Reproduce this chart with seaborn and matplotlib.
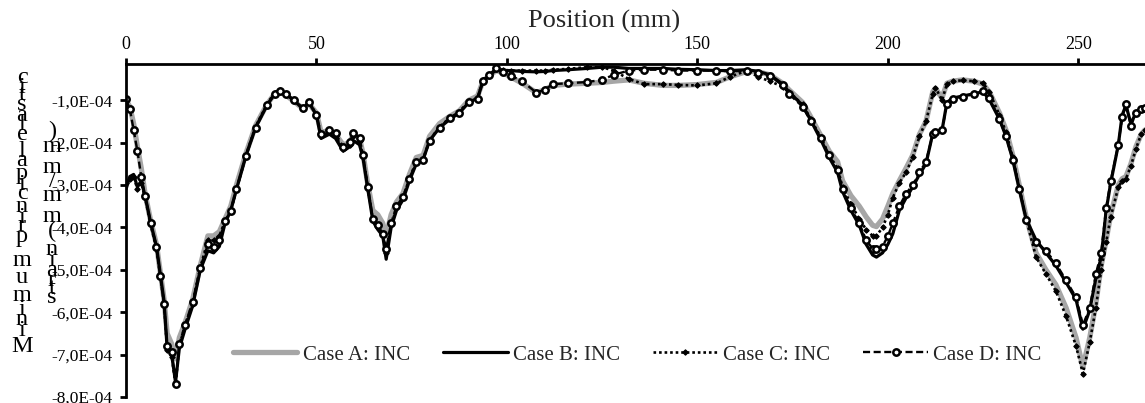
import numpy as np
import pandas as pd
import matplotlib
matplotlib.use("Agg")
import matplotlib.pyplot as plt
import seaborn as sns
from matplotlib.ticker import FuncFormatter, FixedLocator

# ---------------- data (strain values in units of 1E-04 mm/mm) ----------------
position = [0, 1, 2, 3, 4, 5, 6.5, 8, 9, 10, 10.8, 12, 13, 14, 15.5, 17.5, 19.5, 21.5, 23, 24.5,
            26, 27.5, 29, 31.5, 34, 37, 39, 40.5, 42, 44, 46.5, 48, 50, 51.2, 53.4, 55, 57, 58.7,
            59.7, 61.3, 62.2, 63.5, 64.8, 66.1, 67.4, 68.3, 69.6, 71, 72.7, 74.4, 76.2, 78, 79.7,
            82.3, 85, 87.5, 90, 92.3, 93.7, 95.4, 97.2, 99, 101, 104, 107.7, 110, 112, 116, 121,
            125, 128, 132, 136, 141, 145, 150, 155, 158.5, 163, 166, 169, 172.4, 174, 177.6, 179.8,
            182.5, 184.6, 186.8, 188.1, 190.3, 192.5, 194.3, 196, 197, 198.6, 200, 201.3, 203,
            204.8, 206.5, 208.3, 210, 211.8, 212.5, 214.2, 215.5, 217, 219.6, 222.5, 225, 226.6,
            229.3, 231, 232.8, 234.5, 236.3, 238.9, 241.5, 244.1, 246.8, 249.4, 251.2, 253, 254.6,
            256, 257.3, 258.5, 260.5, 261.5, 262.5, 263.8, 265.1, 266.5, 267.5]

case_a = [-1.0, -1.15, -1.55, -2.1, -2.6, -3.2, -3.85, -4.4, -5.05, -5.7, -6.5, -6.75, -7.1, -6.6,
          -6.25, -5.7, -4.9, -4.2, -4.2, -4.1, -3.8, -3.5, -3.0, -2.25, -1.6, -1.1, -0.85, -0.8,
          -0.88, -1.02, -1.2, -1.08, -1.3, -1.75, -1.72, -1.8, -2.05, -2.0, -1.8, -1.9, -2.25,
          -3.0, -3.6, -3.7, -3.9, -4.2, -3.7, -3.4, -3.2, -2.75, -2.35, -2.3, -1.85, -1.55, -1.38,
          -1.25, -1.0, -0.9, -0.55, -0.42, -0.3, -0.35, -0.45, -0.6, -0.82, -0.75, -0.65, -0.62,
          -0.6, -0.58, -0.55, -0.52, -0.6, -0.65, -0.65, -0.63, -0.58, -0.45, -0.32, -0.33, -0.4,
          -0.6, -0.75, -1.05, -1.4, -1.85, -2.2, -2.45, -2.9, -3.25, -3.5, -3.75, -3.95, -3.98,
          -3.8, -3.5, -3.2, -2.9, -2.6, -2.3, -1.8, -1.5, -0.8, -0.72, -0.95, -0.6, -0.55, -0.52,
          -0.55, -0.62, -0.8, -1.3, -1.7, -2.3, -3.0, -3.75, -4.6, -5.0, -5.35, -5.9, -6.6, -7.3,
          -6.6, -5.8, -4.9, -4.3, -3.7, -3.0, -2.85, -2.8, -2.5, -2.1, -1.8, -1.7]

case_b = [-3.1, -2.8, -2.75, -3.05, -2.9, -3.25, -3.9, -4.45, -5.1, -5.75, -6.85, -7.0, -7.65,
          -6.85, -6.4, -5.85, -5.0, -4.55, -4.6, -4.45, -3.9, -3.6, -3.1, -2.3, -1.65, -1.12,
          -0.85, -0.78, -0.85, -1.0, -1.2, -1.05, -1.35, -1.9, -1.8, -1.9, -2.2, -2.1, -1.95,
          -2.05, -2.35, -3.1, -3.85, -4.05, -4.2, -4.75, -4.0, -3.6, -3.35, -2.9, -2.5, -2.4,
          -1.95, -1.65, -1.45, -1.3, -1.05, -0.95, -0.55, -0.42, -0.28, -0.3, -0.3, -0.32, -0.33,
          -0.32, -0.3, -0.28, -0.25, -0.22, -0.22, -0.25, -0.25, -0.25, -0.27, -0.28, -0.3, -0.3,
          -0.28, -0.32, -0.4, -0.62, -0.8, -1.12, -1.48, -1.95, -2.35, -2.7, -3.15, -3.6, -3.95,
          -4.4, -4.65, -4.7, -4.6, -4.4, -4.15, -3.6, -3.3, -3.05, -2.75, -2.5, -1.78, -1.72,
          -1.72, -1.05, -0.95, -0.9, -0.85, -0.8, -0.98, -1.45, -1.85, -2.4, -3.1, -3.8, -4.3,
          -4.6, -4.9, -5.3, -5.7, -6.4, -5.95, -5.2, -4.7, -3.6, -2.95, -2.05, -1.35, -1.12,
          -1.55, -1.3, -1.22, -1.2]

case_c = [-2.95, -2.85, -2.8, -3.1, -2.95, -3.3, -3.95, -4.5, -5.15, -5.8, -6.9, -7.05, -7.7,
          -6.8, -6.3, -5.8, -4.95, -4.3, -4.3, -4.2, -3.85, -3.6, -3.1, -2.3, -1.62, -1.1, -0.82,
          -0.75, -0.85, -1.0, -1.2, -1.05, -1.33, -1.85, -1.75, -1.85, -2.15, -2.05, -1.85, -1.95,
          -2.3, -3.1, -3.8, -3.95, -4.15, -4.6, -3.95, -3.55, -3.3, -2.85, -2.45, -2.38, -1.95,
          -1.62, -1.42, -1.27, -1.02, -0.95, -0.52, -0.4, -0.25, -0.28, -0.3, -0.3, -0.3, -0.3,
          -0.28, -0.26, -0.22, -0.22, -0.3, -0.5, -0.62, -0.62, -0.64, -0.65, -0.6, -0.45, -0.3,
          -0.45, -0.55, -0.68, -0.8, -1.1, -1.45, -1.9, -2.3, -2.6, -3.05, -3.45, -3.8, -4.05,
          -4.2, -4.2, -4.0, -3.7, -3.3, -2.95, -2.7, -2.35, -1.85, -1.5, -0.85, -0.7, -1.0, -0.62,
          -0.55, -0.53, -0.55, -0.6, -0.8, -1.35, -1.75, -2.35, -3.05, -3.8, -4.7, -5.1, -5.5,
          -6.1, -6.8, -7.45, -6.7, -5.9, -5.0, -4.35, -3.75, -3.05, -2.9, -2.85, -2.55, -2.15,
          -1.8, -1.7]

case_d = [-0.98, -1.2, -1.7, -2.2, -2.8, -3.25, -3.9, -4.45, -5.15, -5.8, -6.8, -6.95, -7.7,
          -6.75, -6.3, -5.75, -4.95, -4.4, -4.45, -4.3, -3.85, -3.62, -3.1, -2.32, -1.65, -1.12,
          -0.86, -0.78, -0.86, -1.0, -1.18, -1.04, -1.35, -1.8, -1.7, -1.78, -2.1, -1.98, -1.78,
          -1.88, -2.3, -3.05, -3.8, -3.95, -4.15, -4.5, -3.9, -3.5, -3.28, -2.85, -2.45, -2.4,
          -1.95, -1.65, -1.42, -1.3, -1.05, -0.97, -0.55, -0.4, -0.25, -0.33, -0.42, -0.55, -0.82,
          -0.75, -0.62, -0.6, -0.57, -0.52, -0.4, -0.3, -0.28, -0.28, -0.3, -0.3, -0.3, -0.32,
          -0.3, -0.35, -0.42, -0.65, -0.85, -1.15, -1.5, -1.9, -2.3, -2.65, -3.1, -3.55, -3.9,
          -4.3, -4.5, -4.52, -4.45, -4.2, -3.9, -3.5, -3.2, -3.0, -2.7, -2.45, -1.8, -1.75, -1.7,
          -1.1, -0.98, -0.92, -0.85, -0.78, -0.95, -1.45, -1.85, -2.4, -3.1, -3.82, -4.35, -4.55,
          -4.85, -5.25, -5.65, -6.3, -5.9, -5.1, -4.6, -3.55, -2.9, -2.05, -1.4, -1.1, -1.6, -1.3,
          -1.2, -1.18]

series_names = ["Case A: INC", "Case B: INC", "Case C: INC", "Case D: INC"]
y_ticks = [-1, -2, -3, -4, -5, -6, -7, -8]
x_ticks = [0, 50, 100, 150, 200, 250]
ylabel_lines = ["Minimum principal elastic", "strain (mm/mm)"]

# ---------------- figure ----------------
sns.set_theme(style="white")
plt.rcParams["font.family"] = ["Liberation Serif", "DejaVu Serif"]

W, H = 1145, 403
fig = plt.figure(figsize=(W / 100, H / 100), dpi=100)
ax = fig.add_axes([126 / W, 1 - 397 / H, 1 - 126 / W, (397 - 64) / H])

styles = [
    dict(color="#A6A6A6", lw=3.8, linestyle="-"),
    dict(color="black", lw=2.3, linestyle="-"),
    dict(color="black", lw=1.9, linestyle=(0, (1, 1.1)), marker="D", markersize=2.8,
         markerfacecolor="black", markeredgecolor="black"),
    dict(color="black", lw=1.7, linestyle=(0, (3, 1.5)), marker="o", markersize=4.6,
         markerfacecolor="white", markeredgecolor="black", markeredgewidth=1.8),
]
values = [case_a, case_b, case_c, case_d]
for name, vals, st in zip(series_names, values, styles):
    df = pd.DataFrame({"position": position, "strain": vals})
    sns.lineplot(data=df, x="position", y="strain", ax=ax, sort=False, errorbar=None,
                 label=name, **st)

ax.set_xlim(0, 267.5)
ax.set_ylim(-8.0, -0.145)

ax.xaxis.tick_top()
ax.xaxis.set_label_position("top")
ax.set_xlabel("Position (mm)", fontsize=19)
ax.xaxis.set_label_coords((604 - 126) / (W - 126), 1.11)
ax.set_ylabel("")
ax.xaxis.set_major_locator(FixedLocator(x_ticks))
ax.yaxis.set_major_locator(FixedLocator(y_ticks))
ax.yaxis.set_major_formatter(FuncFormatter(lambda v, p: f"{v:.1f}E-04".replace(".", ",")))

for s in ["right", "bottom"]:
    ax.spines[s].set_visible(False)
for s in ["left", "top"]:
    ax.spines[s].set_visible(True)
    ax.spines[s].set_color("black")
    ax.spines[s].set_linewidth(2.0)

ax.tick_params(axis="x", which="major", direction="out", length=4.5, width=2, colors="black",
               labelsize=13, pad=3.5, top=True, bottom=False, labeltop=True, labelbottom=False)
ax.tick_params(axis="y", which="major", direction="out", length=4, width=2, colors="black",
               labelsize=12.5, pad=5.5, left=True)
ax.grid(False)

leg = ax.legend(loc="center", bbox_to_anchor=((637 - 126) / (W - 126), 1 - (355 - 64) / 333),
                ncol=4, frameon=False, fontsize=15, handlelength=3.1, handletextpad=0.25,
                columnspacing=1.6, numpoints=1, borderaxespad=0)

# y-axis label: upright glyphs laid out bottom-to-top (as in the reference)
adv = {"M": .889, "i": .278, "n": .5, "m": .778, "u": .5, " ": .25, "p": .5, "r": .333,
       "c": .444, "a": .444, "l": .278, "e": .444, "s": .389, "t": .278, "(": .333,
       ")": .333, "/": .278}
K = 27.0
col_x = [22, 52]
yc = 215
for line, cx in zip(ylabel_lines, col_x):
    total = sum(adv[c] for c in line) * K
    yb = yc + total / 2
    cum = 0.0
    for ch in line:
        w = adv[ch]
        cy = yb - (cum + w / 2) * K
        cum += w
        if ch != " ":
            fig.text(cx / W, 1 - cy / H, ch, ha="center", va="center", fontsize=17.5,
                     color="black")

fig.savefig("out.png", dpi=100)
